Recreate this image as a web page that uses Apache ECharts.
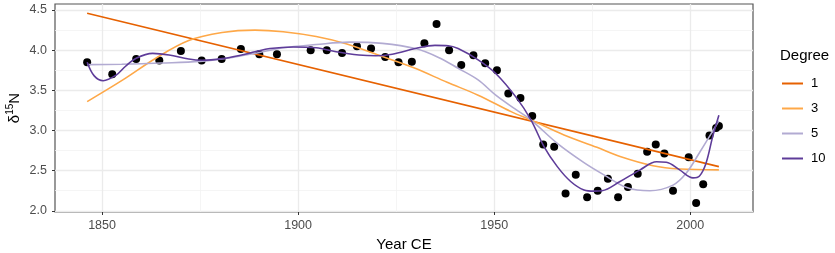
<!DOCTYPE html>
<html>
<head>
<meta charset="utf-8">
<script src="https://cdn.jsdelivr.net/npm/echarts@6/dist/echarts.min.js"></script>
<style>
  html, body { margin: 0; padding: 0; background: #fff; }
  #main { width: 835px; height: 253px; }
</style>
</head>
<body>
<div id="main"></div>
<script>
// observed samples
const pointYears = [1846.2, 1852.6, 1858.7, 1864.6, 1870.1, 1875.4, 1880.5, 1885.4, 1890.1, 1894.6,
  1903.2, 1907.3, 1911.2, 1915.0, 1918.6, 1922.2, 1925.6, 1929.0, 1932.2, 1935.3,
  1938.5, 1941.6, 1944.7, 1947.7, 1950.7, 1953.6, 1956.7, 1959.7, 1962.5, 1965.3,
  1968.2, 1970.8, 1973.7, 1976.4, 1979.0, 1981.6, 1984.1, 1986.6, 1989.0, 1991.2,
  1993.4, 1995.6, 1999.6, 2001.5, 2003.3, 2004.9, 2006.6, 2007.3];
const pointValues = [3.85, 3.70, 3.89, 3.87, 3.99, 3.87, 3.89, 4.015, 3.95, 3.95,
  4.00, 4.00, 3.965, 4.05, 4.02, 3.915, 3.85, 3.857, 4.086, 4.326,
  4.00, 3.816, 3.936, 3.837, 3.75, 3.46, 3.405, 3.18, 2.825, 2.796,
  2.215, 2.45, 2.17, 2.25, 2.398, 2.17, 2.295, 2.46, 2.734, 2.825,
  2.713, 2.249, 2.668, 2.096, 2.332, 2.937, 3.03, 3.057];

// fitted curves
const fit1Years = [1846.2, 2007.3];
const fit1Values = [4.46, 2.55];

const fit3Years = [1846.2, 1855.3, 1863.7, 1872.1, 1880.6, 1889, 1896.2, 1904.6, 1912.2, 1921.5,
  1929.5, 1938, 1945.9, 1954.3, 1959.4, 1967.8, 1976.2, 1982.1, 1990.5, 1997.3, 2007.3];
const fit3Values = [3.36, 3.63, 3.90, 4.12, 4.22, 4.25, 4.23, 4.17, 4.08, 3.92,
  3.78, 3.60, 3.44, 3.235, 3.13, 2.945, 2.79, 2.675, 2.56, 2.52, 2.51];

const fit5Years = [1846.2, 1855, 1865, 1875, 1882, 1889, 1896.2, 1904.6, 1913, 1921.5,
  1929.9, 1935.8, 1940.8, 1945.9, 1950.4, 1955.4, 1959.4, 1966.1, 1972.9, 1977.9,
  1983.8, 1989.7, 1995.6, 1999, 2002.3, 2007.3];
const fit5Values = [3.82, 3.825, 3.84, 3.86, 3.90, 3.96, 4.03, 4.07, 4.10, 4.085,
  4.02, 3.91, 3.775, 3.63, 3.44, 3.265, 3.13, 2.84, 2.60, 2.45,
  2.29, 2.25, 2.32, 2.47, 2.72, 3.12];

const fit10Years = [1846.2, 1848, 1850.3, 1853.6, 1856, 1858.7, 1862.9, 1867.1, 1872.1, 1875.5,
  1880.6, 1885.6, 1889.0, 1892.8, 1898.7, 1904.6, 1909.7, 1915.5, 1919.8, 1924.0,
  1929.9, 1934.9, 1938.3, 1940.8, 1945.9, 1950.4, 1955.8, 1959.4, 1962.7, 1966.1,
  1969.5, 1972.9, 1975.5, 1977.5, 1982.1, 1987.2, 1991.4, 1993.9, 1997.3, 2000.7,
  2002.3, 2004.0, 2005.7, 2007.3];
const fit10Values = [3.85, 3.68, 3.62, 3.69, 3.80, 3.90, 3.96, 3.94, 3.89, 3.875,
  3.895, 3.94, 3.98, 4.02, 4.04, 4.03, 3.98, 3.94, 3.93, 3.95,
  4.02, 4.06, 4.056, 4.02, 3.88, 3.71, 3.40, 3.13, 2.80, 2.55,
  2.365, 2.26, 2.245, 2.25, 2.365, 2.51, 2.61, 2.605, 2.51, 2.41,
  2.43, 2.59, 2.92, 3.19];

const degreeNames = ['1', '3', '5', '10'];
const degreeColors = ['#e66101', '#fea848', '#b2abd2', '#5e3c99'];

const xTicks = [1850, 1900, 1950, 2000];
const xMinorTicks = [1875, 1925, 1975];
const yTicks = [2.0, 2.5, 3.0, 3.5, 4.0, 4.5];
const yMinorTicks = [2.25, 2.75, 3.25, 3.75, 4.25];

const xRange = [1838, 2016];
const yRange = [1.985, 4.575];

const font = '"Liberation Sans", Arial, sans-serif';

function pairs(xs, ys) {
  return xs.map((x, i) => [x, ys[i]]);
}

const fits = [
  [fit1Years, fit1Values],
  [fit3Years, fit3Values],
  [fit5Years, fit5Values],
  [fit10Years, fit10Values]
];

function axisPair(range, ticks, minorTicks, margin, labelFmt) {
  const main = {
    type: 'value',
    min: range[0],
    max: range[1],
    axisLine: { show: false },
    axisTick: { show: true, length: 3, customValues: ticks, lineStyle: { color: '#333', width: 1 } },
    axisLabel: {
      customValues: ticks,
      color: '#4d4d4d',
      fontSize: 12.5,
      fontFamily: font,
      margin: margin,
      formatter: labelFmt
    },
    splitLine: { show: true, lineStyle: { color: '#ebebeb', width: 1.3 } }
  };
  const minor = {
    type: 'value',
    min: range[0],
    max: range[1],
    axisLine: { show: false },
    axisTick: { show: false, customValues: minorTicks },
    axisLabel: { show: false, customValues: minorTicks },
    splitLine: { show: true, lineStyle: { color: '#f2f2f2', width: 0.8 } }
  };
  return [main, minor];
}

const xAxes = axisPair(xRange, xTicks, xMinorTicks, 7, v => String(v));
xAxes[0].name = 'Year CE';
xAxes[0].nameLocation = 'middle';
xAxes[0].nameGap = 25;
xAxes[0].nameTextStyle = { color: '#000', fontSize: 15, fontFamily: font };

const yAxes = axisPair(yRange, yTicks, yMinorTicks, 8, v => v.toFixed(1));
yAxes[0].name = '{d|δ}{s|15}{d|N}';
yAxes[0].nameLocation = 'middle';
yAxes[0].nameRotate = 90;
yAxes[0].nameGap = 30;
yAxes[0].nameMoveOverlap = false;
yAxes[0].nameTextStyle = {
  color: '#000',
  fontFamily: font,
  rich: {
    d: { fontSize: 15, lineHeight: 20, color: '#000', fontFamily: font },
    s: { fontSize: 10, verticalAlign: 'top', color: '#000', fontFamily: font }
  }
};

const series = [{
  type: 'scatter',
  name: 'obs',
  data: pairs(pointYears, pointValues),
  symbolSize: 8,
  itemStyle: { color: '#000', opacity: 1 },
  silent: true
}];
fits.forEach((f, i) => {
  series.push({
    type: 'line',
    name: degreeNames[i],
    data: pairs(f[0], f[1]),
    smooth: 0.35,
    showSymbol: false,
    symbol: 'none',
    lineStyle: { color: degreeColors[i], width: 1.6 },
    itemStyle: { color: degreeColors[i] },
    z: 3
  });
});

const option = {
  animation: false,
  backgroundColor: '#fff',
  textStyle: { fontFamily: font },
  title: {
    text: 'Degree',
    left: 775,
    top: 43,
    textStyle: { fontSize: 15, fontWeight: 'normal', color: '#000', fontFamily: font }
  },
  legend: {
    data: degreeNames,
    orient: 'vertical',
    left: 777,
    top: 72,
    icon: 'rect',
    itemWidth: 21,
    itemHeight: 2,
    itemGap: 12,
    textStyle: { fontSize: 13, color: '#000', fontFamily: font, padding: [0, 0, 0, 3] }
  },
  grid: {
    left: 55,
    right: 82,
    top: 4,
    bottom: 41,
    outerBoundsMode: 'none',
    show: true,
    borderColor: '#555',
    borderWidth: 1.2,
    backgroundColor: 'transparent'
  },
  xAxis: xAxes,
  yAxis: yAxes,
  series: series
};

var myChart = echarts.init(document.getElementById('main'), null, { renderer: 'canvas' });
myChart.setOption(option);
</script>
</body>
</html>
